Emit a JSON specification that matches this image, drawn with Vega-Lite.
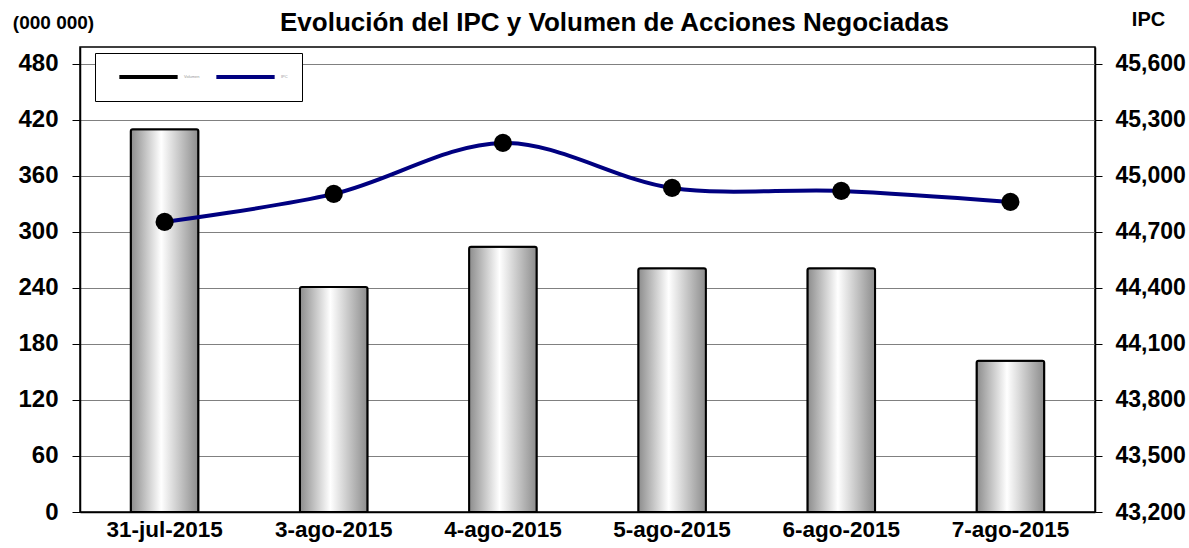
{
  "$schema": "https://vega.github.io/schema/vega-lite/v6.json",
  "width": 1015,
  "height": 465,
  "autosize": {"type": "none"},
  "padding": {"left": 80, "top": 47, "right": 94, "bottom": 36},
  "background": "white",
  "config": {
    "font": "Liberation Sans",
    "view": {"stroke": "black", "strokeWidth": 1.5},
    "axis": {"labelFont": "Liberation Sans", "labelFontWeight": "bold", "labelColor": "black", "titleFont": "Liberation Sans"}
  },
  "title": {
    "text": "Evolución del IPC y Volumen de Acciones Negociadas",
    "font": "Liberation Sans",
    "fontSize": 26,
    "fontWeight": "bold",
    "color": "black",
    "anchor": "middle",
    "dx": 27,
    "dy": 19,
    "offset": -8
  },
  "data": {
    "values": [
      {"fecha": "31-jul-2015", "volumen": 410, "ipc": 44754},
      {"fecha": "3-ago-2015", "volumen": 241, "ipc": 44904},
      {"fecha": "4-ago-2015", "volumen": 284, "ipc": 45177},
      {"fecha": "5-ago-2015", "volumen": 261, "ipc": 44936},
      {"fecha": "6-ago-2015", "volumen": 261, "ipc": 44920},
      {"fecha": "7-ago-2015", "volumen": 162, "ipc": 44861}
    ]
  },
  "encoding": {
    "x": {
      "field": "fecha",
      "type": "nominal",
      "sort": null,
      "scale": {"paddingInner": 0.6, "paddingOuter": 0.3},
      "axis": {"title": null, "labelAngle": 0, "labelFontSize": 22.5, "labelPadding": 6, "ticks": false, "domainColor": "black", "domainWidth": 1.5, "grid": false}
    }
  },
  "layer": [
    {
      "mark": {
        "type": "bar",
        "stroke": "black",
        "strokeWidth": 2,
        "cornerRadiusTopLeft": 2,
        "cornerRadiusTopRight": 2,
        "fill": {
          "gradient": "linear",
          "x1": 0, "y1": 0, "x2": 1, "y2": 0,
          "stops": [
            {"offset": 0, "color": "#8c8c8c"},
            {"offset": 0.45, "color": "#ffffff"},
            {"offset": 1, "color": "#8c8c8c"}
          ]
        }
      },
      "encoding": {
        "y": {
          "field": "volumen",
          "type": "quantitative",
          "scale": {"domain": [0, 498], "nice": false, "zero": true},
          "axis": {
            "values": [0, 60, 120, 180, 240, 300, 360, 420, 480],
            "title": "(000 000)",
            "titleAngle": 0,
            "titleFontSize": 19,
            "titleFontWeight": "bold",
            "titleColor": "black",
            "titleX": -27,
            "titleY": -25,
            "titleAlign": "center",
            "titleBaseline": "middle",
            "labelFontSize": 24,
            "labelPadding": 14,
            "tickSize": 8,
            "tickColor": "black",
            "domainColor": "black",
            "domainWidth": 1.5,
            "grid": true,
            "gridColor": "#808080",
            "gridWidth": 1.2
          }
        }
      }
    },
    {
      "mark": {"type": "line", "interpolate": "catmull-rom", "strokeWidth": 4},
      "encoding": {
        "y": {
          "field": "ipc",
          "type": "quantitative",
          "scale": {"domain": [43200, 45691], "nice": false, "zero": false},
          "axis": {
            "orient": "right",
            "values": [43200, 43500, 43800, 44100, 44400, 44700, 45000, 45300, 45600],
            "format": ",.0f",
            "title": "IPC",
            "titleAngle": 0,
            "titleFontSize": 20,
            "titleFontWeight": "bold",
            "titleColor": "black",
            "titleX": 53,
            "titleY": -28,
            "titleAlign": "center",
            "titleBaseline": "middle",
            "labelFontSize": 23,
            "labelPadding": 13,
            "tickSize": 7,
            "tickColor": "black",
            "domainColor": "black",
            "domainWidth": 1.5,
            "grid": false
          }
        },
        "color": {
          "datum": "IPC",
          "scale": {"domain": ["Volumen", "IPC"], "range": ["black", "#000080"]},
          "legend": {
            "title": null,
            "orient": "none",
            "legendX": 15,
            "legendY": 6,
            "direction": "horizontal",
            "symbolType": "stroke",
            "symbolSize": 3400,
            "symbolStrokeWidth": 4,
            "clipHeight": 20,
            "padding": 14,
            "symbolOffset": 8,
            "columnPadding": 6,
            "labelFontSize": 4,
            "labelColor": "#999999",
            "labelOffset": 4,
            "fillColor": "white",
            "strokeColor": "black"
          }
        }
      }
    },
    {
      "mark": {"type": "point", "filled": true, "color": "black", "size": 330, "opacity": 1},
      "encoding": {
        "y": {
          "field": "ipc",
          "type": "quantitative",
          "scale": {"domain": [43200, 45691], "nice": false, "zero": false},
          "axis": null
        }
      }
    }
  ],
  "resolve": {"scale": {"y": "independent", "color": "independent"}}
}
